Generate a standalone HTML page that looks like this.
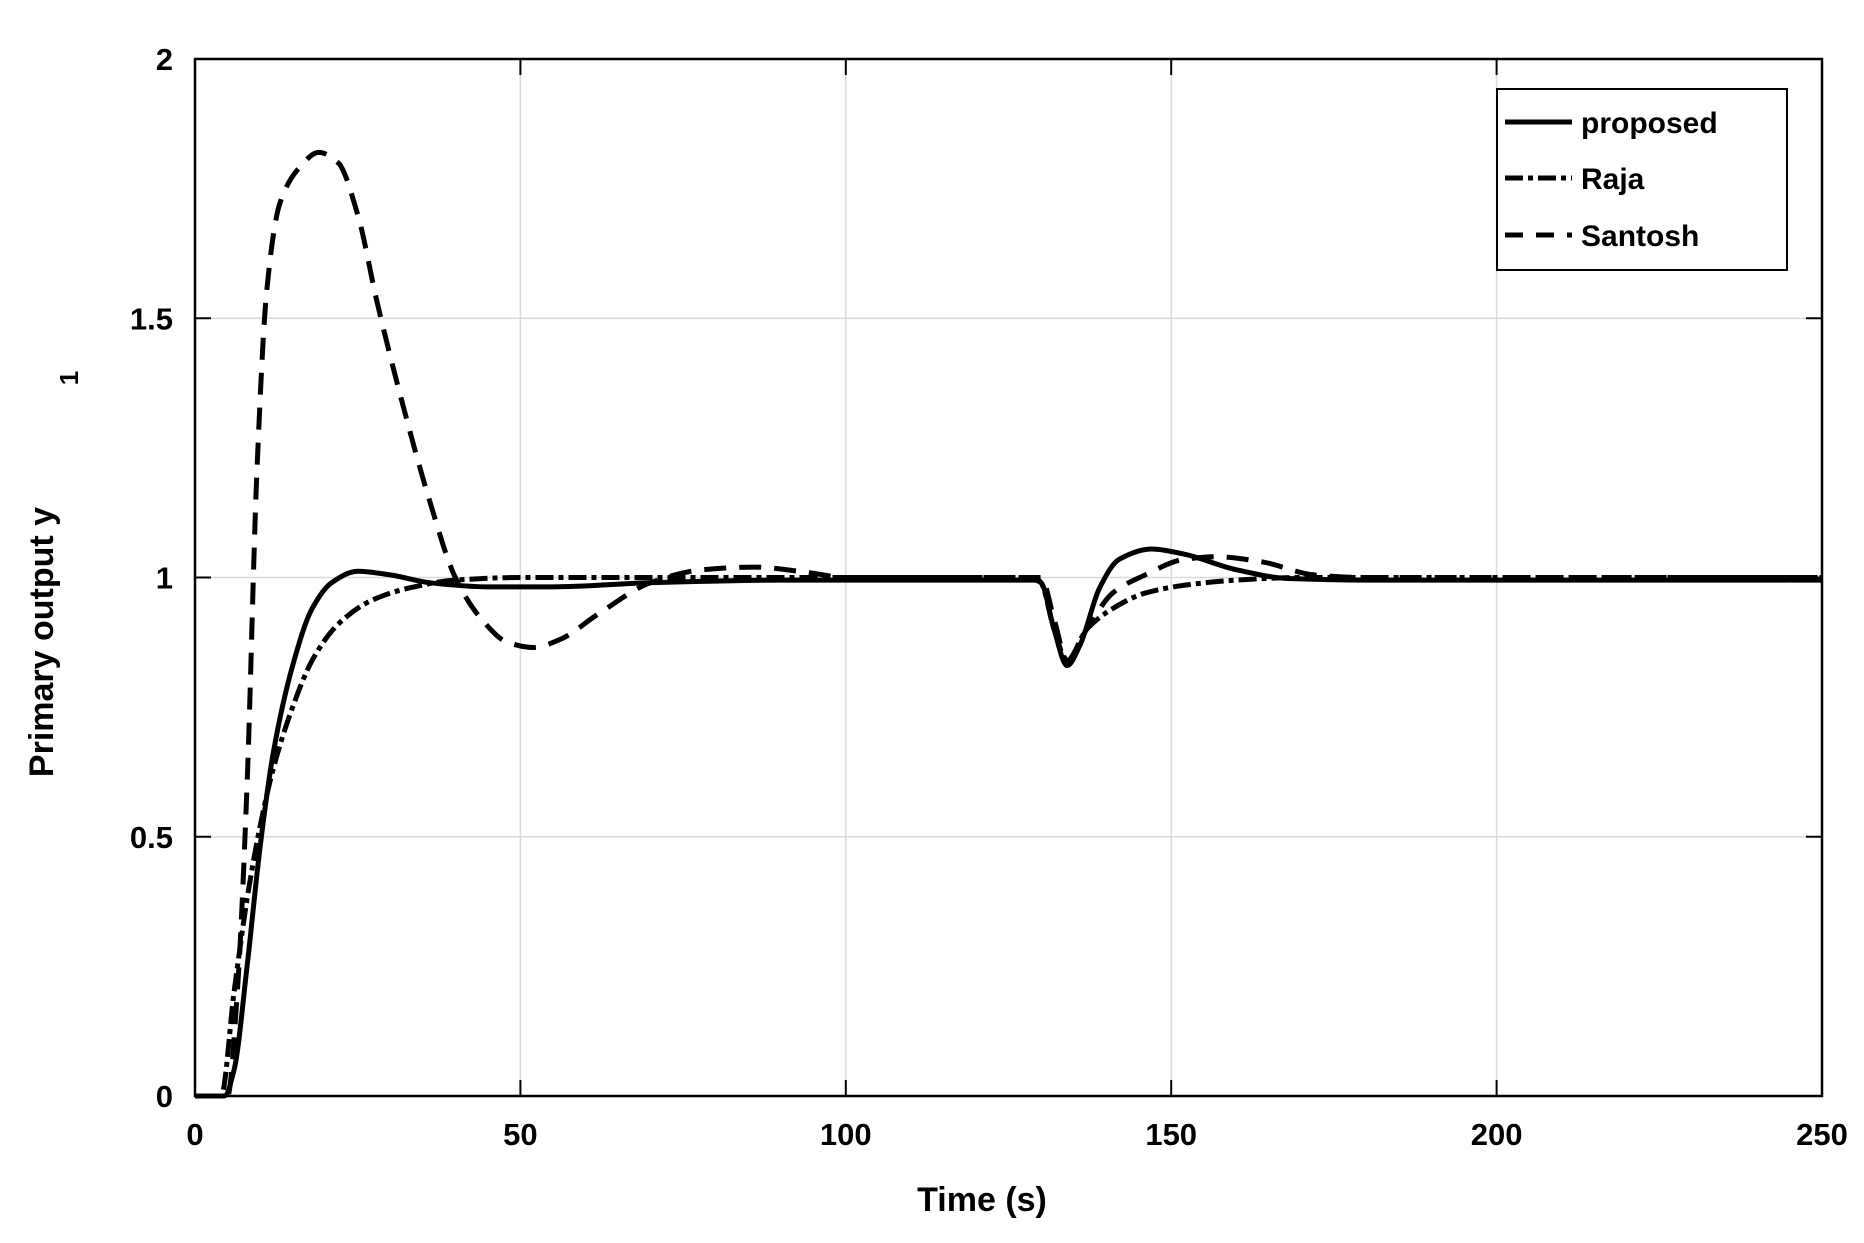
<!DOCTYPE html>
<html><head><meta charset="utf-8"><style>
html,body{margin:0;padding:0;background:#fff;}
svg{display:block;font-family:"Liberation Sans",Arial,sans-serif;font-weight:bold;}
</style></head><body>
<svg id="s" width="1864" height="1243" xmlns="http://www.w3.org/2000/svg">
<g stroke="#d9d9d9" stroke-width="1.5" id="grid"></g>
<g id="curves" fill="none" stroke="#000" stroke-width="5" stroke-linejoin="round"></g>
<rect x="195" y="59" width="1627" height="1037" fill="none" stroke="#000" stroke-width="2.5"/>
<g id="ticks" stroke="#000" stroke-width="2"></g>
<g id="labels" font-size="31" fill="#000"></g>
<rect x="1497" y="89" width="290" height="181" fill="#fff" stroke="#000" stroke-width="2"/>
<line x1="1505" y1="122" x2="1572" y2="122" stroke="#000" stroke-width="5"/>
<line x1="1505" y1="178" x2="1572" y2="178" stroke="#000" stroke-width="5" stroke-dasharray="18,5,5,5"/>
<line x1="1505" y1="235" x2="1572" y2="235" stroke="#000" stroke-width="5" stroke-dasharray="18,13"/>
<text x="1581" y="133" font-size="30">proposed</text>
<text x="1581" y="189" font-size="30">Raja</text>
<text x="1581" y="246" font-size="30">Santosh</text>
<text x="982" y="1211" font-size="34" text-anchor="middle">Time (s)</text>
<text transform="translate(53,642) rotate(-90)" font-size="34" text-anchor="middle">Primary output y</text>
<text transform="translate(78,378) rotate(-90)" font-size="26" text-anchor="middle">1</text>
</svg>
<script>
var NS="http://www.w3.org/2000/svg";
function X(t){return 195+t*1627/250;}function Y(v){return 1096-v*518.5;}
function el(p,tag,a,txt){var e=document.createElementNS(NS,tag);for(var k in a)e.setAttribute(k,a[k]);if(txt!==undefined)e.textContent=txt;document.getElementById(p).appendChild(e);}
[50,100,150,200].forEach(function(t){el("grid","line",{x1:X(t),y1:59,x2:X(t),y2:1096});});
[0.5,1,1.5].forEach(function(v){el("grid","line",{x1:195,y1:Y(v),x2:1822,y2:Y(v)});});
[0,50,100,150,200,250].forEach(function(t){el("ticks","line",{x1:X(t),y1:1096,x2:X(t),y2:1080});el("ticks","line",{x1:X(t),y1:59,x2:X(t),y2:75});
el("labels","text",{x:X(t),y:1145,"text-anchor":"middle"},String(t));});
[0,0.5,1,1.5,2].forEach(function(v){el("ticks","line",{x1:195,y1:Y(v),x2:211,y2:Y(v)});el("ticks","line",{x1:1822,y1:Y(v),x2:1806,y2:Y(v)});
el("labels","text",{x:173,y:Y(v)+11,"text-anchor":"end"},String(v));});
function path(pts){var n=pts.length,x=pts.map(p=>p[0]),y=pts.map(p=>p[1]),d=[],m=[];
for(var i=0;i<n-1;i++)d.push((y[i+1]-y[i])/(x[i+1]-x[i]));
m[0]=d[0];m[n-1]=d[n-2];
for(i=1;i<n-1;i++){if(d[i-1]*d[i]<=0)m[i]=0;else{var w1=2*(x[i+1]-x[i])+(x[i]-x[i-1]),w2=(x[i+1]-x[i])+2*(x[i]-x[i-1]);m[i]=(w1+w2)/(w1/d[i-1]+w2/d[i]);}}
var s="M"+X(x[0])+","+Y(y[0]);
for(i=0;i<n-1;i++){var h=x[i+1]-x[i];
s+=" C"+X(x[i]+h/3)+","+Y(y[i]+m[i]*h/3)+" "+X(x[i+1]-h/3)+","+Y(y[i+1]-m[i+1]*h/3)+" "+X(x[i+1])+","+Y(y[i+1]);}
return s;}
var prop=[[0,0],[4.5,0],[6,0.05],[8,0.25],[10,0.48],[12,0.66],[15,0.83],[18,0.94],[21,0.99],[25,1.012],[30,1.005],[36,0.99],[45,0.982],[55,0.982],[70,0.99],[90,0.995],[129,0.995],[130,0.99],[132,0.9],[134,0.83],[136,0.87],[139,0.98],[142,1.035],[147,1.055],[152,1.045],[160,1.015],[168,0.998],[180,0.995],[250,0.995]];
var raja=[[0,0],[4,0],[6,0.2],[8,0.38],[10,0.52],[12,0.63],[15,0.75],[18,0.84],[22,0.91],[27,0.955],[33,0.98],[40,0.995],[50,1],[129,1],[130,0.99],[132,0.9],[134,0.84],[137,0.9],[141,0.94],[146,0.97],[152,0.985],[160,0.995],[170,1],[250,1]];
var sant=[[0,0],[5,0],[6.5,0.2],[8,0.6],[9.5,1.2],[11,1.55],[13,1.72],[16,1.79],[19,1.82],[22,1.8],[25,1.7],[28,1.53],[32,1.33],[36,1.15],[40,1.0],[44,0.92],[48,0.875],[52,0.865],[56,0.88],[62,0.93],[70,0.99],[78,1.015],[86,1.02],[94,1.01],[100,1.0],[130,1.0],[132,0.92],[134,0.84],[137,0.9],[141,0.97],[146,1.005],[152,1.035],[157,1.04],[164,1.03],[172,1.005],[180,1],[250,1]];
el("curves","path",{d:path(sant),"stroke-dasharray":"22,13"});
el("curves","path",{d:path(raja),"stroke-dasharray":"18,5,5,5"});
el("curves","path",{d:path(prop)});
</script>
</body></html>
